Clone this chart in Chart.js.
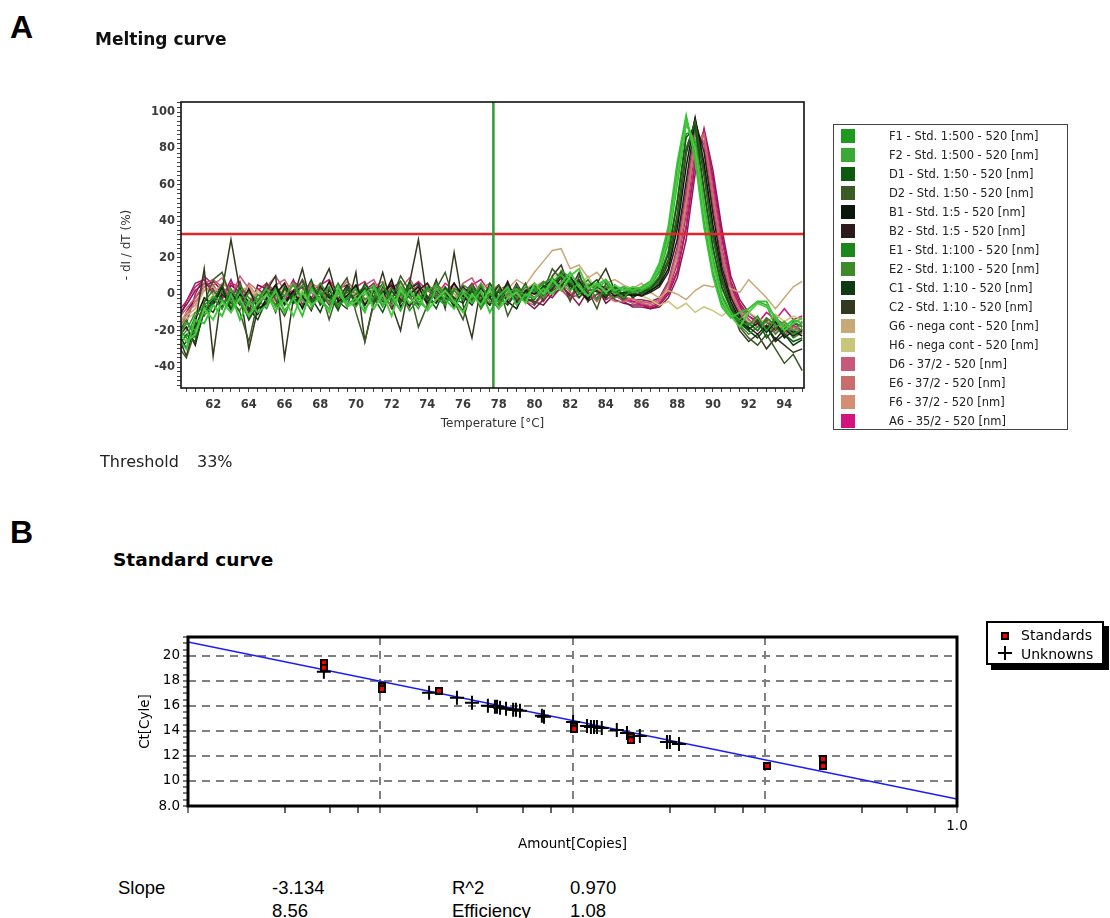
<!DOCTYPE html>
<html>
<head>
<meta charset="utf-8">
<script src="https://cdn.jsdelivr.net/npm/chart.js@4.4.1/dist/chart.umd.min.js"></script>
<style>
  html, body { margin: 0; padding: 0; background: #fff; }
  body { width: 1110px; height: 918px; position: relative; overflow: hidden; font-family: "Liberation Sans", Arial, sans-serif; color: #000; }
  .t { position: absolute; white-space: nowrap; line-height: 1; }
  .soft { filter: blur(0.35px); }
  canvas { position: absolute; }
  #legendA { position: absolute; left: 833px; top: 124px; width: 233px; height: 304px; border: 1.5px solid #444; background: #fff; }
  #legendA .row { position: absolute; left: 0; height: 19px; width: 233px; }
  #legendA .sw { position: absolute; left: 7px; top: 2px; width: 14px; height: 14px; }
  #legendA .lb { position: absolute; left: 55px; top: 2px; font: 11.5px "DejaVu Sans", sans-serif; color: #222; line-height: 14px; }
  #legendB { position: absolute; left: 986px; top: 621px; width: 114px; height: 40px; border: 2px solid #000; background: #fff; box-shadow: 5px 5px 0 #000; }
  #legendB .lb { position: absolute; left: 33px; font: 14px "DejaVu Sans", sans-serif; line-height: 16px; }
</style>
</head>
<body>

<div class="t" style="left:10px;top:9px;font:bold 32px 'Liberation Sans',Arial,sans-serif;">A</div>
<div class="t soft" style="left:95px;top:29px;font:bold 17px 'DejaVu Sans',sans-serif;color:#111;">Melting curve</div>
<canvas id="melt" class="soft" width="720" height="350" style="left:100px;top:90px;"></canvas>
<div id="legendA" class="soft"></div>
<div class="t soft" style="left:100px;top:452px;font:16px 'DejaVu Sans',sans-serif;color:#222;">Threshold</div>
<div class="t soft" style="left:197px;top:452px;font:16px 'DejaVu Sans',sans-serif;color:#222;">33%</div>

<div class="t" style="left:10px;top:514px;font:bold 32px 'Liberation Sans',Arial,sans-serif;">B</div>
<div class="t" style="left:113px;top:549px;font:bold 18.5px 'DejaVu Sans',sans-serif;">Standard curve</div>
<canvas id="std" width="900" height="250" style="left:100px;top:620px;"></canvas>
<div id="legendB">
  <div style="position:absolute;left:13px;top:9px;width:8px;height:8px;background:#000;"><div style="position:absolute;left:2px;top:2px;width:4px;height:4px;background:#f00;"></div></div>
  <div class="lb" style="top:4px;">Standards</div>
  <div style="position:absolute;left:10px;top:29px;width:14px;height:2px;background:#000;"></div>
  <div style="position:absolute;left:16px;top:23px;width:2px;height:14px;background:#000;"></div>
  <div class="lb" style="top:23px;">Unknowns</div>
</div>

<div class="t" style="left:118px;top:877px;font:18.5px 'Liberation Sans',Arial,sans-serif;">Slope</div>
<div class="t" style="left:272px;top:877px;font:18.5px 'Liberation Sans',Arial,sans-serif;">-3.134</div>
<div class="t" style="left:452px;top:877px;font:18.5px 'Liberation Sans',Arial,sans-serif;">R^2</div>
<div class="t" style="left:570px;top:877px;font:18.5px 'Liberation Sans',Arial,sans-serif;">0.970</div>
<div class="t" style="left:272px;top:900px;font:18.5px 'Liberation Sans',Arial,sans-serif;">8.56</div>
<div class="t" style="left:452px;top:900px;font:18.5px 'Liberation Sans',Arial,sans-serif;">Efficiency</div>
<div class="t" style="left:570px;top:900px;font:18.5px 'Liberation Sans',Arial,sans-serif;">1.08</div>

<script>
// ---------- Melting curve data: -dI/dT (%) sampled every 0.5 °C ----------
const temps = [
  60, 60.5, 61, 61.5, 62, 62.5, 63, 63.5, 64, 64.5,
  65, 65.5, 66, 66.5, 67, 67.5, 68, 68.5, 69, 69.5,
  70, 70.5, 71, 71.5, 72, 72.5, 73, 73.5, 74, 74.5,
  75, 75.5, 76, 76.5, 77, 77.5, 78, 78.5, 79, 79.5,
  80, 80.5, 81, 81.5, 82, 82.5, 83, 83.5, 84, 84.5,
  85, 85.5, 86, 86.5, 87, 87.5, 88, 88.5, 89, 89.5,
  90, 90.5, 91, 91.5, 92, 92.5, 93, 93.5, 94, 94.5,
  95
];

const wellF1 = [
  -18, -24, -12, -6, -2, -8, 3, -5, -12, 0,
  -4, 2, -9, -3, 5, -6, -1, 4, -7, -2,
  3, -8, -2, 6, -4, 1, -9, -3, 4, -2,
  -6, 2, -3, 5, -8, 0, -4, 3, -2, 4,
  1, 6, 9, 3, 8, 0, 5, -3, 4, 2,
  -2, 3, 3, 6, 15, 34, 69, 97, 76, 40,
  12, -5, -12, -15, -17, -12, -20, -14, -18, -22,
  -19
];
const wellF2 = [
  -25, -16, -20, -9, -1, -4, -10, 2, -6, -3,
  3, -7, -2, 6, -3, -8, 2, -5, 1, -4,
  -7, 0, 5, -3, -6, 4, -1, -8, 2, 5,
  -1, -5, 3, -2, 6, -4, -7, 1, 3, -1,
  4, -2, 7, 11, 2, 6, -1, 3, 7, 0,
  3, 1, 2, 5, 12, 28, 60, 93, 84, 50,
  20, 0, -10, -14, -8, -4, -6, -18, -15, -20,
  -16
];
const wellD1 = [
  -30, -22, -26, -10, -4, 5, -8, -2, -14, -6,
  2, -10, 4, -5, -2, 8, -6, 0, -9, 3,
  -4, 6, -2, -10, 2, -5, 7, -3, -1, -8,
  4, -3, -9, 2, -5, 6, -2, -6, 1, -4,
  -3, 5, 2, 12, 6, -2, 4, 8, -1, 3,
  0, 2, 1, 3, 9, 22, 50, 86, 92, 58,
  26, 4, -8, -16, -20, -14, -24, -18, -22, -26,
  -24
];
const wellD2 = [
  -28, -35, -20, -5, 8, 12, -2, -10, -26, -4,
  6, -3, -12, 0, 8, -4, 3, -14, 2, 9,
  -10, -26, -5, 4, -3, 10, 2, -18, -6, 3,
  12, -4, -14, 3, -8, 0, 5, -12, -2, 6,
  -6, 2, 14, 8, -4, 10, 2, -8, 6, 1,
  -3, 4, 0, 3, 7, 18, 42, 79, 95, 66,
  32, 8, -6, -18, -24, -28, -22, -30, -38, -33,
  -42
];
const wellB1 = [
  -20, -30, -14, -2, -6, 4, -9, 0, -4, -11,
  -2, 5, -5, 2, -8, 3, -3, 7, -4, -1,
  5, -6, 2, -2, 8, -7, 0, 4, -5, 2,
  -3, 6, -1, -6, 3, -2, 5, -4, -8, 2,
  0, 4, 8, 5, 10, 2, -3, 6, 3, -1,
  1, -1, 0, 2, 5, 14, 36, 70, 97, 72,
  38, 12, -4, -14, -19, -16, -21, -15, -24, -20,
  -23
];
const wellB2 = [
  -24, -18, -28, -8, -3, -7, 1, -6, 3, -8,
  -5, 0, 6, -4, -1, -9, 4, -2, 3, -6,
  -2, 3, -8, 1, 5, -3, -6, 2, 6, -4,
  2, -7, 4, -1, -4, 3, -3, 7, -5, 0,
  6, -1, 3, 9, 4, 7, 0, 2, -2, 5,
  -1, 0, -1, 1, 4, 12, 30, 62, 95, 78,
  44, 15, -2, -12, -18, -22, -17, -25, -19, -23,
  -20
];
const wellE1 = [
  -22, -14, -24, -4, 2, -3, -8, 5, -2, -6,
  1, -6, 3, -2, -7, 4, 0, -4, 6, -3,
  0, 4, -5, 2, -3, 7, -2, -6, 3, 0,
  -5, 3, 1, -4, 4, -1, 2, -3, 5, -2,
  3, 0, 5, 10, 6, 3, 8, 1, -1, 4,
  2, 0, 3, 6, 13, 30, 63, 95, 82, 47,
  18, -1, -11, -13, -16, -20, -13, -17, -21, -15,
  -18
];
const wellE2 = [
  -26, -20, -10, -12, -5, 2, -4, -9, 1, -3,
  -8, 4, -1, 5, -3, -5, 6, -1, -6, 2,
  4, -3, 1, -7, 3, -1, 5, 0, -4, 6,
  0, -6, 5, 2, -3, 4, -5, 0, 2, -3,
  2, 7, 3, 13, 9, 1, 4, 6, 0, -2,
  1, 3, 2, 4, 10, 24, 52, 88, 90, 55,
  24, 3, -8, -17, -22, -18, -15, -22, -17, -24,
  -21
];
const wellC1 = [
  -32, -26, -18, -6, -10, 0, -5, 3, -8, -14,
  -3, 3, -6, 1, 4, -2, -10, 2, -3, 5,
  -6, 2, 4, -4, -1, -9, 3, 6, -2, -5,
  3, -2, -5, 4, -1, -6, 2, -3, 4, -1,
  -2, 3, 6, 10, 5, 8, -2, 4, 1, 2,
  0, 1, -1, 2, 6, 17, 40, 77, 96, 68,
  34, 9, -6, -15, -20, -24, -18, -26, -22, -28,
  -25
];
const wellC2 = [
  -22, -34, -16, 14, -34, 2, 30, 2, -30, -8,
  2, 10, -35, -2, 14, -6, 4, 14, -4, -8,
  12, -26, -4, 12, -6, -20, 6, 30, -4, 8,
  -8, 23, -6, -24, 4, -2, -8, 6, -4, 2,
  5, -3, 10, 16, 2, 12, -4, 6, 14, 2,
  4, -2, 1, 4, 8, 19, 44, 80, 94, 65,
  31, 7, -7, -20, -26, -22, -30, -24, -28, -32,
  -30
];
const wellG6 = [
  -16, -12, -8, 2, 4, 0, -5, 2, 4, -3,
  3, -2, 1, 5, -4, 2, 6, -1, 3, -2,
  1, 4, -3, 2, 0, 5, -2, 3, -4, 1,
  4, -2, 2, -1, 6, 1, -3, 3, 8, 5,
  12, 18, 24, 25, 14, 16, 9, 12, 6, 8,
  5, 3, 6, 1, -2, 2, 0, -3, 2, 5,
  4, 6, 3, 1, 8, 3, -2, -8, -2, 4,
  7
];
const wellH6 = [
  -20, -14, -10, -4, -1, 3, -6, 0, -3, 2,
  -5, 0, 4, -3, 2, -6, 1, 5, -2, 0,
  3, -4, 0, 5, -2, -5, 2, -1, 4, -3,
  -1, 3, -4, 0, 2, -3, 4, 1, -2, 3,
  6, 3, 9, 12, 7, 4, 10, 2, 5, 3,
  0, 2, -1, -3, -6, -4, -8, -5, -10, -7,
  -9, -12, -8, -14, -10, -13, -16, -11, -15, -12,
  -14
];
const wellD6 = [
  -14, -8, -2, 6, 8, 4, -2, 10, 3, -6,
  4, 10, 2, -4, 8, 1, -5, 6, -2, 3,
  -4, 5, 8, -1, -6, 3, 9, 0, -3, 5,
  2, -3, 6, 9, 0, -5, 3, -2, 5, -4,
  -6, 0, 5, 2, -2, 6, 1, -4, 3, -1,
  -3, -5, -4, -5, -3, 6, 24, 54, 88, 84,
  50, 20, 0, -10, -17, -14, -20, -16, -22, -18,
  -21
];
const wellE6 = [
  -20, -12, -4, 2, 5, 9, 0, -4, 6, 2,
  -3, 5, 8, 0, -2, 6, 3, -4, 1, 7,
  2, -5, 4, 7, 1, -3, 5, -2, 6, 0,
  -2, 4, 1, -5, 3, 6, -1, 2, -4, 3,
  0, -3, 4, 7, 1, -2, 3, 5, -1, -4,
  -4, -2, -5, -6, -4, 3, 18, 46, 82, 88,
  56, 24, 3, -8, -14, -18, -13, -19, -15, -20,
  -17
];
const wellF6 = [
  -18, -10, -6, 4, 0, 6, 2, -3, 5, -1,
  2, -4, 3, 6, -1, 4, -3, 2, 5, -2,
  -1, 3, -4, 2, 5, -2, 1, 4, -3, 2,
  3, 0, -3, 4, -2, 2, 5, -1, 3, 1,
  4, 7, 2, 10, 5, 3, 6, 1, 4, 0,
  -1, -3, -4, -5, -3, 5, 21, 50, 85, 86,
  53, 22, 2, -9, -16, -13, -18, -21, -16, -19,
  -22
];
const wellA6 = [
  -10, -4, 4, 8, 2, -3, 6, 4, -5, 2,
  6, 1, -4, 7, 3, -2, 5, 8, 0, -3,
  4, 7, -2, 1, 6, -4, 3, 7, 2, -1,
  6, 2, -3, 5, 8, 1, -2, 4, 0, 3,
  -2, 2, 6, 3, -3, 4, 0, -2, 5, 1,
  -2, -4, -6, -7, -5, 1, 13, 38, 74, 90,
  62, 30, 6, -6, -12, -16, -10, -14, -8, -14,
  -12
];
// further wells on the run (not listed in the legend box)
const wellA5 = [
  -24, -30, -14, -16, -6, -12, 0, -14, -4, -10,
  -6, 2, -10, -2, -12, 3, -4, -8, 1, -6,
  -2, -10, 4, -6, -1, -9, 2, -4, -8, 3,
  -3, -8, 1, -5, 2, -10, -1, 4, -6, 0,
  -2, 3, 0, 6, 12, 4, -1, 5, 8, 2,
  4, 2, 4, 7, 17, 37, 72, 98, 74, 37,
  10, -7, -13, -10, -8, -4, -4, -14, -18, -14,
  -16
];
const wellB5 = [
  -20, -26, -22, -8, -14, -4, -10, -2, -12, -5,
  0, -9, -3, -12, 1, -6, -2, -10, 4, -7,
  -4, 2, -8, 0, -12, 3, -5, -1, -9, -3,
  2, -4, -10, 0, -6, 3, -8, -2, 1, -5,
  6, 0, 8, 2, 10, 14, 3, 6, 1, 5,
  2, 4, 3, 6, 14, 31, 64, 95, 80, 45,
  16, -3, -12, -18, -10, -5, -7, -12, -20, -16,
  -13
];
const wellB6 = [
  -12, -6, 2, 6, 3, -8, 5, 1, -14, -4,
  2, -6, 4, 0, -3, 6, -5, 3, -8, 1,
  -3, 4, -5, 2, -8, 0, 3, -6, 4, -2,
  1, -5, 3, -3, 5, -2, -6, 4, -1, -4,
  -8, -3, 2, 5, -1, 3, -4, 0, 2, -3,
  -5, -6, -6, -8, -6, 0, 12, 36, 72, 89,
  64, 32, 7, -5, -12, -15, -18, -14, -20, -16,
  -18
];
const wellC6 = [
  -16, -4, 6, 8, 0, 4, -3, 7, -9, 3,
  -1, 5, -4, 2, 7, -3, 1, -6, 3, 5,
  0, -6, 3, 5, -2, 4, -7, 2, -3, 6,
  -4, 2, -1, 5, -3, 0, 4, -5, 2, -2,
  -5, 1, -2, 4, 0, -6, 2, 3, -3, 0,
  -4, -7, -7, -8, -7, -2, 9, 30, 66, 91,
  68, 36, 10, -3, -10, -14, -19, -13, -17, -21,
  -15
];
const wellG5 = [
  -26, -10, -2, 4, 7, 2, -6, 0, -10, 5,
  3, -2, 6, -5, 0, 4, -3, -8, 2, -1,
  5, -3, 0, -6, 3, 7, -2, 1, -5, 3,
  0, 6, -4, 2, -7, 3, 1, -3, 6, -2,
  -4, -6, 0, 3, 6, 1, -2, 4, -5, -1,
  -3, -4, -5, -7, -5, 2, 17, 44, 80, 89,
  57, 25, 4, -7, -14, -18, -15, -20, -17, -22,
  -19
];
const wellH5 = [
  -22, -16, 0, 10, 5, -2, 8, -4, 2, -7,
  5, -3, -1, 8, -6, 2, 5, -2, -5, 4,
  -5, 2, 6, -3, 4, -2, 0, 5, -6, 1,
  3, -4, 0, 6, -2, -6, 2, 5, -3, 0,
  2, -4, 3, 6, -2, 0, 5, -3, 1, 4,
  -2, -3, -3, -4, -2, 7, 26, 57, 90, 82,
  48, 19, -1, -11, -16, -20, -14, -18, -23, -17,
  -20
];

const thresholdPct = 33;     // horizontal threshold line (%)
const cursorTemp = 77.7;     // vertical cursor (°C)

// wells in legend order, then the extra wells
const legendWells = [
  { name: 'F1 - Std. 1:500 - 520 [nm]', color: '#1f9a1f', values: wellF1 },
  { name: 'F2 - Std. 1:500 - 520 [nm]', color: '#3aa834', values: wellF2 },
  { name: 'D1 - Std. 1:50 - 520 [nm]',  color: '#0c5a0e', values: wellD1 },
  { name: 'D2 - Std. 1:50 - 520 [nm]',  color: '#3b5a24', values: wellD2 },
  { name: 'B1 - Std. 1:5 - 520 [nm]',   color: '#0a180a', values: wellB1 },
  { name: 'B2 - Std. 1:5 - 520 [nm]',   color: '#2b1a1a', values: wellB2 },
  { name: 'E1 - Std. 1:100 - 520 [nm]', color: '#1a861c', values: wellE1 },
  { name: 'E2 - Std. 1:100 - 520 [nm]', color: '#3c8a2c', values: wellE2 },
  { name: 'C1 - Std. 1:10 - 520 [nm]',  color: '#0f3a12', values: wellC1 },
  { name: 'C2 - Std. 1:10 - 520 [nm]',  color: '#33391e', values: wellC2 },
  { name: 'G6 - nega cont - 520 [nm]',  color: '#c9a878', values: wellG6 },
  { name: 'H6 - nega cont - 520 [nm]',  color: '#c8c67a', values: wellH6 },
  { name: 'D6 - 37/2 - 520 [nm]',       color: '#c8587a', values: wellD6 },
  { name: 'E6 - 37/2 - 520 [nm]',       color: '#c86c6c', values: wellE6 },
  { name: 'F6 - 37/2 - 520 [nm]',       color: '#d48e72', values: wellF6 },
  { name: 'A6 - 35/2 - 520 [nm]',       color: '#d2147c', values: wellA6 }
];
const extraTopWells = [
  { name: 'A5', color: '#38c238', values: wellA5, width: 1.9 },
  { name: 'B5', color: '#4ccc40', values: wellB5, width: 1.9 }
];
const extraBottomWells = [
  { name: 'B6', color: '#7e1648', values: wellB6 },
  { name: 'C6', color: '#8c1c54', values: wellC6 },
  { name: 'G5', color: '#6f1240', values: wellG5 },
  { name: 'H5', color: '#96205c', values: wellH5 }
];

// legend box for the melting curve
(function buildLegend() {
  const box = document.getElementById('legendA');
  legendWells.forEach((w, i) => {
    const row = document.createElement('div');
    row.className = 'row';
    row.style.top = (2 + 19 * i) + 'px';
    row.innerHTML = '<div class="sw" style="background:' + w.color + '"></div><div class="lb"></div>';
    row.querySelector('.lb').textContent = w.name;
    box.appendChild(row);
  });
})();

const meltDatasets = [...extraTopWells, ...legendWells, ...extraBottomWells].map(w => ({
  label: w.name,
  data: w.values,
  borderColor: w.color,
  borderWidth: w.width || 1.5,
  pointRadius: 0,
  tension: 0,
  fill: false
}));

const meltOverlay = {
  id: 'meltOverlay',
  afterDatasetsDraw(chart) {
    const { ctx, chartArea: a, scales: { x, y } } = chart;
    ctx.save();
    const yt = y.getPixelForValue(thresholdPct);
    ctx.strokeStyle = '#e3262b';
    ctx.lineWidth = 2.5;
    ctx.beginPath(); ctx.moveTo(a.left, yt); ctx.lineTo(a.right, yt); ctx.stroke();
    const xc = x.getPixelForValue(cursorTemp);
    ctx.strokeStyle = '#2f9a36';
    ctx.lineWidth = 2.5;
    ctx.beginPath(); ctx.moveTo(xc, a.top); ctx.lineTo(xc, a.bottom); ctx.stroke();
    ctx.strokeStyle = '#111';
    ctx.lineWidth = 1.6;
    ctx.strokeRect(a.left, a.top, a.right - a.left, a.bottom - a.top);
    ctx.restore();
  }
};

const tickFontA = { family: 'DejaVu Sans', size: 11.5, weight: 'bold' };

new Chart(document.getElementById('melt'), {
  type: 'line',
  data: { labels: temps, datasets: meltDatasets },
  options: {
    responsive: false,
    animation: false,
    devicePixelRatio: 1,
    layout: { padding: { top: 12, right: 16, bottom: 0, left: 0 } },
    plugins: { legend: { display: false }, tooltip: { enabled: false } },
    scales: {
      x: {
        type: 'linear', min: 60.2, max: 95.1,
        afterBuildTicks: s => { const t = []; for (let v = 60.5; v <= 95; v += 0.5) t.push({ value: v }); s.ticks = t; },
        ticks: { autoSkip: false, maxRotation: 0, padding: 6, color: '#3a3a3a', font: tickFontA,
                 callback: v => (v % 2 === 0 ? String(v) : '') },
        grid: { drawOnChartArea: false, drawTicks: true, tickLength: 4, tickColor: '#444', tickWidth: 1 },
        border: { display: false },
        title: { display: true, text: 'Temperature [°C]', color: '#333', font: { family: 'DejaVu Sans', size: 12 }, padding: { top: 0, bottom: 9 } },
        afterFit: s => { s.height = 52; }
      },
      y: {
        min: -51.5, max: 105.5,
        afterBuildTicks: s => { const t = []; for (let v = -50; v <= 105; v += 2.5) t.push({ value: v }); s.ticks = t; },
        ticks: { autoSkip: false, padding: 2, color: '#3a3a3a', font: tickFontA,
                 callback: v => (v % 20 === 0 && v >= -40 && v <= 100 ? String(v) : '') },
        grid: { drawOnChartArea: false, drawTicks: true, tickLength: 4, tickColor: '#444', tickWidth: 1 },
        border: { display: false },
        title: { display: true, text: '- dI / dT (%)', color: '#333', font: { family: 'DejaVu Sans', size: 12 }, padding: { top: 20, bottom: 0 } },
        afterFit: s => { s.width = 81; }
      }
    }
  },
  plugins: [meltOverlay]
});

// ---------- Standard curve data ----------
const stdAmounts = [5.09e-4, 5.09e-4, 1.02e-3, 1.02e-3, 2.02e-3, 1.02e-2, 1.02e-2, 2.01e-2, 2.01e-2, 0.103, 0.201, 0.201];
const stdCt      = [19.45, 19.05, 17.55, 17.35, 17.2, 14.35, 14.15, 13.5, 13.25, 11.2, 11.75, 11.2];

const unkAmounts = [5.09e-4, 1.795e-3, 2.506e-3, 3.0e-3, 3.63e-3, 3.95e-3, 4.05e-3, 4.2e-3, 4.51e-3,
                    4.91e-3, 5.08e-3, 5.33e-3, 6.93e-3, 7.11e-3, 1.007e-2, 1.19e-2, 1.247e-2, 1.294e-2,
                    1.34e-2, 1.42e-2, 1.70e-2, 1.92e-2, 2.24e-2, 3.10e-2, 3.21e-2, 3.58e-2];
const unkCt      = [18.72, 17.04, 16.64, 16.24, 16.0, 15.92, 15.92, 15.84, 15.76,
                    15.68, 15.68, 15.6, 15.2, 15.12, 14.72, 14.4, 14.32, 14.32,
                    14.32, 14.24, 14.08, 13.84, 13.6, 13.12, 13.12, 12.96];

const fitSlope = -3.134;
const fitIntercept = 8.56;
const amountRange = [1e-4, 1];
const minorMultipliers = [3.2, 5.5, 7.7];

function standardMarker() {
  const c = document.createElement('canvas');
  c.width = 8; c.height = 8;
  const g = c.getContext('2d');
  g.fillStyle = '#000'; g.fillRect(0, 0, 8, 8);
  g.fillStyle = '#ff0000'; g.fillRect(2, 2, 4, 4);
  return c;
}

const isDecade = v => Math.abs(Math.log10(v) - Math.round(Math.log10(v))) < 1e-9;

const stdFrame = {
  id: 'stdFrame',
  afterDraw(chart) {
    const { ctx, chartArea: a } = chart;
    ctx.save();
    ctx.strokeStyle = '#000';
    ctx.lineWidth = 3;
    ctx.strokeRect(a.left, a.top, a.right - a.left, a.bottom - a.top);
    ctx.restore();
  }
};

const fontB = { family: 'DejaVu Sans', size: 13.5 };

new Chart(document.getElementById('std'), {
  type: 'scatter',
  data: {
    datasets: [
      {
        label: 'Standards',
        data: stdAmounts.map((a, i) => ({ x: a, y: stdCt[i] })),
        pointStyle: standardMarker(),
        pointRadius: 4
      },
      {
        label: 'Unknowns',
        data: unkAmounts.map((a, i) => ({ x: a, y: unkCt[i] })),
        pointStyle: 'cross',
        pointRadius: 7,
        borderColor: '#000',
        borderWidth: 2
      },
      {
        type: 'line',
        label: 'Fit',
        data: amountRange.map(a => ({ x: a, y: fitSlope * Math.log10(a) + fitIntercept })),
        borderColor: '#1a1aff',
        borderWidth: 1.6,
        pointRadius: 0,
        tension: 0
      }
    ]
  },
  options: {
    responsive: false,
    animation: false,
    devicePixelRatio: 1,
    layout: { padding: { top: 17, right: 43, bottom: 0, left: 0 } },
    plugins: { legend: { display: false }, tooltip: { enabled: false } },
    scales: {
      x: {
        type: 'logarithmic', min: amountRange[0], max: amountRange[1],
        afterBuildTicks: s => {
          const t = [];
          for (let e = -4; e <= 0; e++) {
            t.push({ value: Math.pow(10, e) });
            if (e < 0) minorMultipliers.forEach(m => t.push({ value: m * Math.pow(10, e) }));
          }
          t.sort((p, q) => p.value - q.value);
          s.ticks = t;
        },
        ticks: { autoSkip: false, maxRotation: 0, padding: 5, color: '#000', font: fontB,
                 callback: v => (Math.abs(v - 1) < 1e-9 ? '1.0' : '') },
        grid: {
          color: c => (c.tick && isDecade(c.tick.value) && c.tick.value > 1.5e-4 && c.tick.value < 0.9) ? '#808080' : 'rgba(0,0,0,0)',
          lineWidth: 2,
          tickLength: 7,
          tickColor: c => (c.tick && isDecade(c.tick.value)) ? '#777' : '#666',
          tickWidth: 2
        },
        border: { display: false, dash: [8, 6] },
        title: { display: true, text: 'Amount[Copies]', color: '#000', font: fontB, padding: { top: 0, bottom: 17 } },
        afterFit: s => { s.height = 64; }
      },
      y: {
        min: 8, max: 21.5,
        afterBuildTicks: s => { const t = []; for (let v = 8; v <= 21.5; v += 0.5) t.push({ value: v }); s.ticks = t; },
        ticks: { autoSkip: false, padding: 3, color: '#000', font: fontB,
                 callback: v => (v === 8 ? '8.0' : (v % 2 === 0 && v <= 20 ? String(v) : '')) },
        grid: {
          color: c => (c.tick && c.tick.value % 2 === 0 && c.tick.value > 8 && c.tick.value <= 20) ? '#808080' : 'rgba(0,0,0,0)',
          lineWidth: 2,
          tickLength: 5,
          tickColor: '#555',
          tickWidth: 1.5
        },
        border: { display: false, dash: [8, 6] },
        title: { display: true, text: 'Ct[Cyle]', color: '#000', font: fontB, padding: { top: 37, bottom: 0 } },
        afterFit: s => { s.width = 88; }
      }
    }
  },
  plugins: [stdFrame]
});
</script>
</body>
</html>
